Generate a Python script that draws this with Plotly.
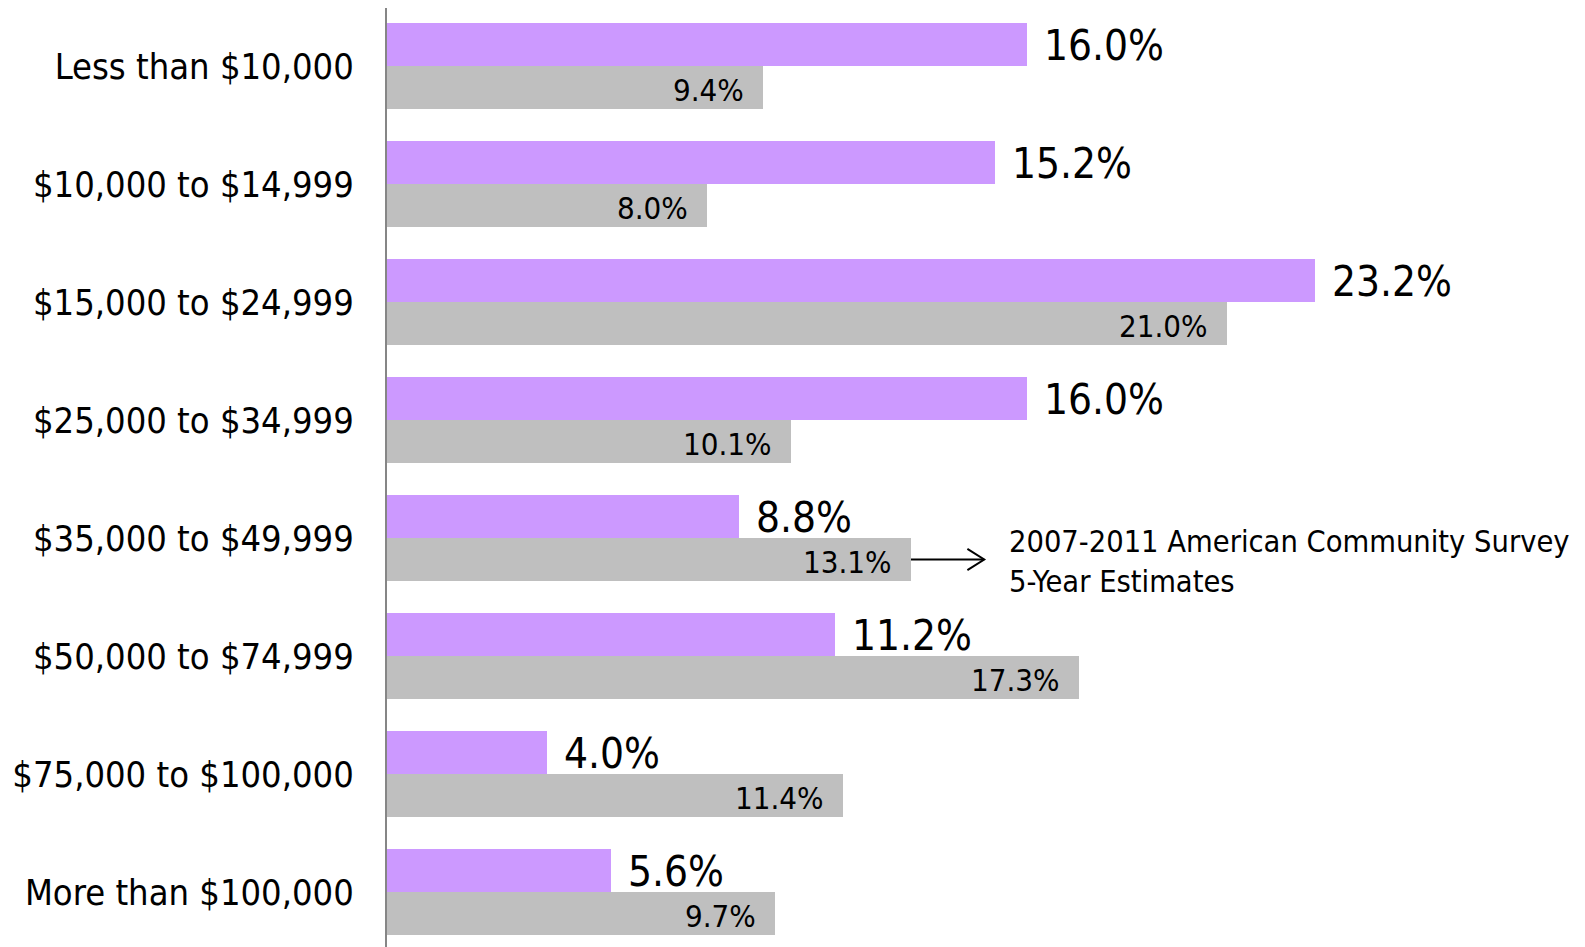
import plotly.graph_objects as go

categories = ["Less than $10,000", "$10,000 to $14,999", "$15,000 to $24,999",
              "$25,000 to $34,999", "$35,000 to $49,999", "$50,000 to $74,999",
              "$75,000 to $100,000", "More than $100,000"]
survey_values = [16.0, 15.2, 23.2, 16.0, 8.8, 11.2, 4.0, 5.6]
acs_values = [9.4, 8.0, 21.0, 10.1, 13.1, 17.3, 11.4, 9.7]

acs_note = "2007-2011 American Community Survey<br>5-Year Estimates"
note_category_index = 4

FONT = "DejaVu Sans Condensed, DejaVu Sans, sans-serif"
PURPLE = "#CC99FF"
GRAY = "#BFBFBF"

fig = go.Figure()
fig.add_trace(go.Bar(y=categories, x=survey_values, orientation="h",
                     marker=dict(color=PURPLE, line=dict(width=0)), name="Survey",
                     hoverinfo="skip"))
fig.add_trace(go.Bar(y=categories, x=acs_values, orientation="h",
                     marker=dict(color=GRAY, line=dict(width=0)), name="ACS",
                     hoverinfo="skip"))

annotations = []
for c, v in zip(categories, survey_values):
    annotations.append(dict(x=v, y=c, xref="x", yref="y", text=f"{v:.1f}%",
                            showarrow=False, xanchor="left", yanchor="middle",
                            xshift=15, yshift=21,
                            font=dict(family=FONT, size=42, color="black")))
for c, v in zip(categories, acs_values):
    annotations.append(dict(x=v, y=c, xref="x", yref="y", text=f"{v:.1f}%",
                            showarrow=False, xanchor="right", yanchor="middle",
                            xshift=-17, yshift=-24,
                            font=dict(family=FONT, size=31, color="black")))

# arrow from the ACS bar of the $35,000-$49,999 group to the note
ax0 = acs_values[note_category_index]
ay = note_category_index + 0.182
ax1 = ax0 + 1.83
shapes = [
    dict(type="line", xref="x", yref="y", x0=ax0, x1=ax1, y0=ay, y1=ay,
         line=dict(color="black", width=2)),
    dict(type="path", xref="x", yref="y",
         path=f"M {ax1-0.42},{ay-0.09} L {ax1},{ay} L {ax1-0.42},{ay+0.09}",
         line=dict(color="black", width=2)),
]
annotations.append(dict(x=ax1 + 0.58, y=ay, xref="x", yref="y", text=acs_note,
                        showarrow=False, xanchor="left", yanchor="middle", align="left",
                        yshift=-2,
                        font=dict(family=FONT, size=30.5, color="black")))

fig.update_layout(
    width=1577, height=939,
    margin=dict(l=379, r=0, t=0, b=0),
    barmode="group", bargap=0.271, bargroupgap=0,
    plot_bgcolor="white", paper_bgcolor="white",
    showlegend=False,
    annotations=annotations, shapes=shapes,
    font=dict(family=FONT, color="black"),
)
fig.update_xaxes(range=[0, 29.95], visible=False, showgrid=False, zeroline=False)
fig.update_yaxes(range=[7.466, -0.4915], showline=True, linecolor="#868686", linewidth=2,
                 showgrid=False, zeroline=False, ticks="", ticklabelstandoff=24,
                 tickfont=dict(family=FONT, size=36, color="black"))

fig.write_html("out.html")
